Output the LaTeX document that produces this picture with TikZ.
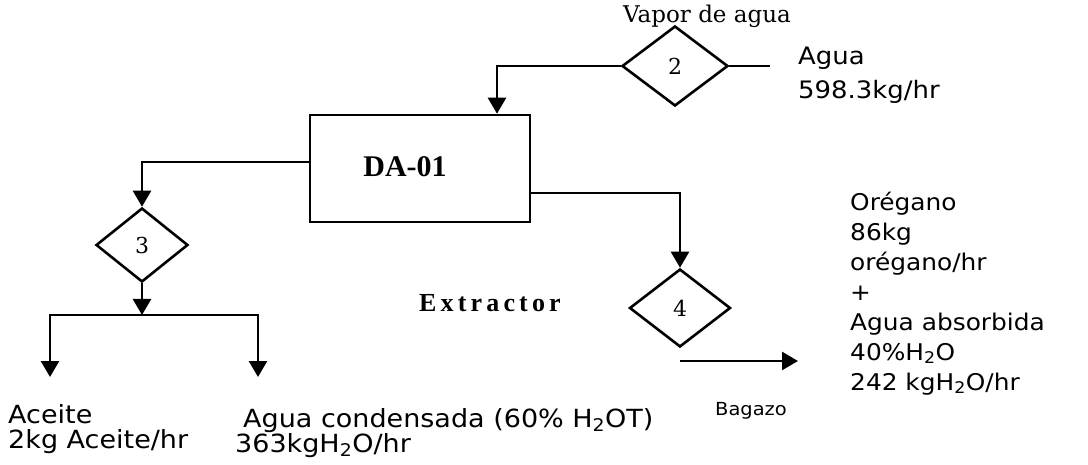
\documentclass[tikz,border=0pt]{standalone}
\usepackage{fontspec}
\setmainfont{Liberation Serif}
\newfontfamily\vfont[FakeStretch=1.08]{DejaVu Sans}
\newfontfamily\sfont{DejaVu Serif}
\newfontfamily\extfont[LetterSpace=16]{Liberation Serif}
\usetikzlibrary{shapes.geometric,arrows.meta}

\begin{document}
\begin{tikzpicture}[x=1pt,y=-1pt,
  flow/.style={draw=black, line width=2.6pt, -{Triangle[length=16pt,width=18pt]}},
  valve/.style={diamond, draw=black, line width=2.6pt, inner sep=0pt, font=\sfont\fontsize{22}{22}\selectfont},
  lbl/.style={anchor=base west, inner sep=0pt, align=left}]
\useasboundingbox (0,0) rectangle (1088,465);

%%%%%equipo
\node[draw=black, line width=2.6pt, minimum width=220pt, minimum height=107pt] (da) at (420,168.5) {};
\node[inner sep=0pt, font=\bfseries\fontsize{30}{30}\selectfont] (dalabel) at (405,167) {DA-01};
\node[inner sep=0pt, font=\extfont\bfseries\fontsize{26}{26}\selectfont] (ext) at (490,303) {Extractor};

%%%%%corrientes
\node[valve, minimum width=106pt, minimum height=80pt] (d2) at (675,66) {2};
\node[valve, minimum width=92pt, minimum height=74pt] (d3) at (142,245) {3};
\node[valve, minimum width=101pt, minimum height=78pt] (d4) at (680,308) {4};

\coordinate (steam) at (770,66);
\coordinate (split) at (142,315);
\coordinate (oil) at (50,377);
\coordinate (cond) at (258,377);
\coordinate (bag1) at (680,361);
\coordinate (bag2) at (798,361);

%%%%%lineas
\draw[line width=2.6pt] (d2.east) -- (steam);
\draw[flow] (d2.west) -| ([xshift=77pt]da.north);
\draw[flow] ([yshift=6.5pt]da.west) -| (d3.north);
\draw[flow] (d3.south) -- (split);
\draw[flow] (split) -| (oil);
\draw[flow] (split) -| (cond);
\draw[flow] ([yshift=-24.5pt]da.east) -| (d4.north);
\draw[flow] (bag1) -- (bag2);

%%%%%textos (base = ultima linea)
\node[lbl, font=\sfont\fontsize{23}{23}\selectfont] (vapor) at (623,23) {Vapor de agua};
\node[lbl, font=\vfont\fontsize{24}{34}\selectfont] (agua) at (798,99) {Agua\\598.3kg/hr};
\node[lbl, font=\vfont\fontsize{25}{25}\selectfont] (aceite) at (8,448) {Aceite\\2kg Aceite/hr};
\node[lbl, font=\vfont\fontsize{25}{25}\selectfont] (condensada) at (235,452) {\hspace{8pt}Agua condensada (60\% H\textsubscript{2}OT)\\363kgH\textsubscript{2}O/hr};
\node[lbl, font=\vfont\fontsize{18}{18}\selectfont] (bagazo) at (715,415) {Bagazo};
\node[lbl, font=\vfont\fontsize{23}{30}\selectfont] (oregano) at (850,390) {Orégano\\86kg\\orégano/hr\\+\\Agua absorbida\\40\%H\textsubscript{2}O\\242 kgH\textsubscript{2}O/hr};

\end{tikzpicture}
\end{document}
